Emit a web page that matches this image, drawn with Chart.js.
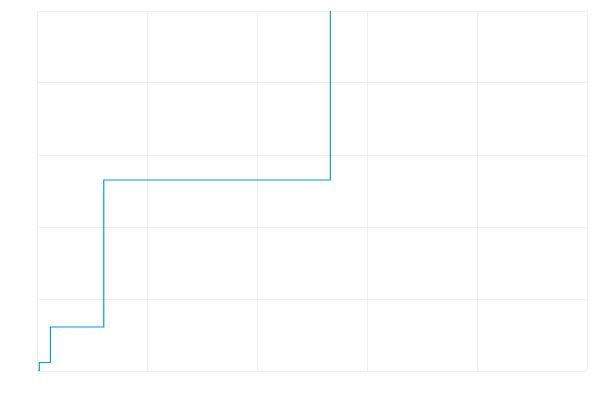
<!DOCTYPE html>
<html>
<head>
<meta charset="utf-8">
<script src="https://cdn.jsdelivr.net/npm/chart.js@4"></script>
<style>
html,body{margin:0;padding:0;background:#fff;}
#c{display:block;}
</style>
</head>
<body>
<canvas id="c" width="600" height="400"></canvas>
<script>
// step positions (x) and levels (y)
const stepX = [0.012, 0.021, 0.122, 0.607, 2.667];
const stepY = [0.01, 0.118, 0.611, 2.653, 7.0];
const xTicks = [0, 1, 2, 3, 4, 5];
const yTicks = [0, 1, 2, 3, 4, 5];

const points = stepX.map((x, i) => ({x: x, y: stepY[i]}));

new Chart(document.getElementById('c'), {
  type: 'scatter',
  data: {
    datasets: [{
      data: points,
      showLine: true,
      stepped: 'before',
      borderColor: '#009AFA',
      borderWidth: 1.2,
      pointRadius: 0,
      fill: false
    }]
  },
  options: {
    responsive: false,
    animation: false,
    layout: {padding: {left: 37, right: 13, top: 11, bottom: 29}},
    plugins: {legend: {display: false}, tooltip: {enabled: false}},
    scales: {
      x: {
        type: 'linear', min: xTicks[0], max: xTicks[xTicks.length - 1],
        afterBuildTicks: s => { s.ticks = xTicks.map(v => ({value: v})); },
        ticks: {display: false},
        border: {display: false},
        grid: {color: '#f0f0f0', drawTicks: false, lineWidth: 1}
      },
      y: {
        type: 'linear', min: yTicks[0], max: yTicks[yTicks.length - 1],
        afterBuildTicks: s => { s.ticks = yTicks.map(v => ({value: v})); },
        ticks: {display: false},
        border: {display: false},
        grid: {color: '#f0f0f0', drawTicks: false, lineWidth: 1}
      }
    }
  }
});
</script>
</body>
</html>
